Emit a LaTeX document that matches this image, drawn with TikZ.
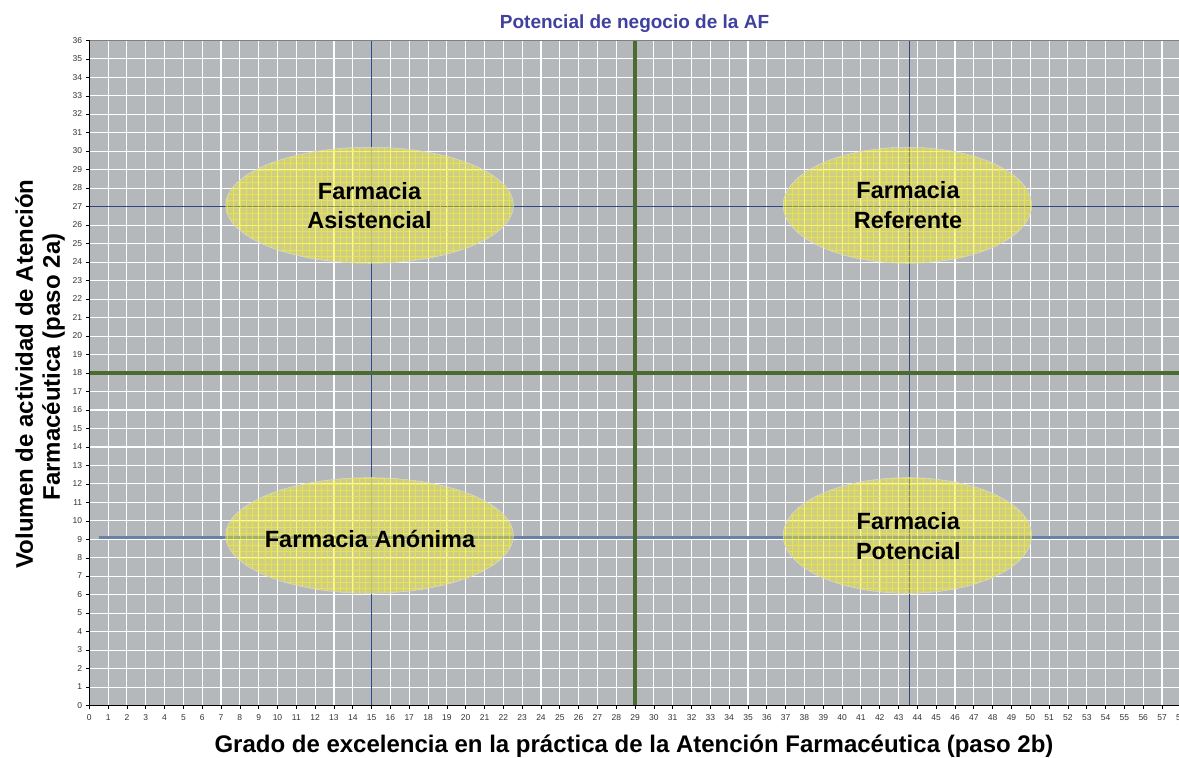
\documentclass[tikz,border=0pt]{standalone}
\usepackage{fontspec}
\setmainfont{Liberation Sans}
\definecolor{plotgray}{HTML}{B5B8BB}
\definecolor{quadgreen}{HTML}{4E6A33}
\definecolor{bluea}{HTML}{2B4E8C}
\definecolor{blueb}{HTML}{34497A}
\definecolor{bluec}{HTML}{2F4680}
\definecolor{blued}{HTML}{6B82A6}
\definecolor{titleblue}{HTML}{4040A0}
\definecolor{ticktext}{HTML}{333333}
\definecolor{blobyellow}{HTML}{F2EE3A}
\newcommand{\ellblob}[4]{%
  \fill[blobyellow,fill opacity=0.42] (#1,#2) ellipse [x radius=#3, y radius=#4];
  \begin{scope}
    \clip (#1,#2) ellipse [x radius=#3, y radius=#4];
    \draw[yellow!85!white,line width=0.45pt,opacity=0.55,xstep=0.33333,ystep=0.33333] (0,0) grid (58,36);
  \end{scope}
  \draw[gray!30,line width=0.5pt] (#1,#2) ellipse [x radius=#3, y radius=#4];
}
\tikzset{
  ticklab/.style={font=\fontsize{8.5}{10}\selectfont, text=ticktext, inner sep=0pt},
  blobtext/.style={font=\fontsize{23.5}{29.5}\selectfont\bfseries, align=center, inner sep=0pt},
  axislab/.style={font=\fontsize{24}{28}\selectfont\bfseries, inner sep=0pt},
}
\begin{document}
\begin{tikzpicture}[x=18.82pt,y=18.48pt]
\useasboundingbox[fill=white] (-89.3pt,-52.3pt) rectangle (1089.7pt,705.7pt);
% plot area
\fill[plotgray] (0,0) rectangle (58,36);
\foreach \i in {1,...,57} \draw[white,line width=1.1pt] (\i,0) -- (\i,36);
\foreach \j in {1,...,35} \draw[white,line width=1.1pt] (0,\j) -- (58,\j);
% reference lines
\draw[blued,line width=2.2pt] (0.5,9.1) -- (58,9.1);
\draw[bluec,line width=0.9pt] (0,27) -- (58,27);
\draw[bluea,line width=1.2pt] (15,0) -- (15,36);
\draw[blueb,line width=1pt] (43.6,0) -- (43.6,36);
% quadrant lines
\draw[quadgreen,line width=3.8pt] (0,18) -- (58,18);
\draw[quadgreen,line width=3.8pt] (29,0) -- (29,36);
% frame and axes
\draw[gray,line width=0.9pt] (0,36) -- (58,36);
\draw[black,line width=1pt] (0,0) -- (0,36);
\draw[black,line width=1.2pt] (0,0) -- (58,0);
\foreach \j in {0,...,36} {
  \draw[black,line width=0.7pt] (0,\j) -- ++(-3pt,0);
  \node[ticklab,anchor=mid east] (yt\j) at ([xshift=-7pt]0,\j) {\j};
}
\foreach \i in {0,...,58} {
  \draw[black,line width=0.7pt] (\i,0) -- ++(0,-3.5pt);
  \node[ticklab,anchor=base] (xt\i) at ([yshift=-15pt]\i,0) {\i};
}
% ellipses
\ellblob{14.89}{27.08}{143.8pt}{58pt}
\ellblob{43.47}{27.08}{124.2pt}{58pt}
\ellblob{14.89}{9.21}{143.8pt}{57.8pt}
\ellblob{43.47}{9.21}{124.2pt}{57.8pt}
\node[blobtext] (asis) at (280.2pt,500.2pt) {Farmacia\\Asistencial};
\node[blobtext] (refe) at (818.7pt,500.7pt) {Farmacia\\Referente};
\node[blobtext] (anon) at (280.7pt,166.4pt) {Farmacia Anónima};
\node[blobtext] (pote) at (819pt,169.5pt) {Farmacia\\Potencial};
% titles
\node[font=\fontsize{19}{22}\selectfont\bfseries,text=titleblue,inner sep=0pt,anchor=base] (title) at (545.2pt,677.5pt) {Potencial de negocio de la AF};
\node[axislab,anchor=base] (xlab) at (544.7pt,-46.3pt) {Grado de excelencia en la práctica de la Atención Farmacéutica (paso 2b)};
\node[axislab,anchor=base,rotate=90] (ylabA) at (-56.3pt,331.7pt) {Volumen de actividad de Atención};
\node[axislab,anchor=base,rotate=90] (ylabB) at (-29.3pt,338.7pt) {Farmacéutica (paso 2a)};
\end{tikzpicture}
\end{document}
